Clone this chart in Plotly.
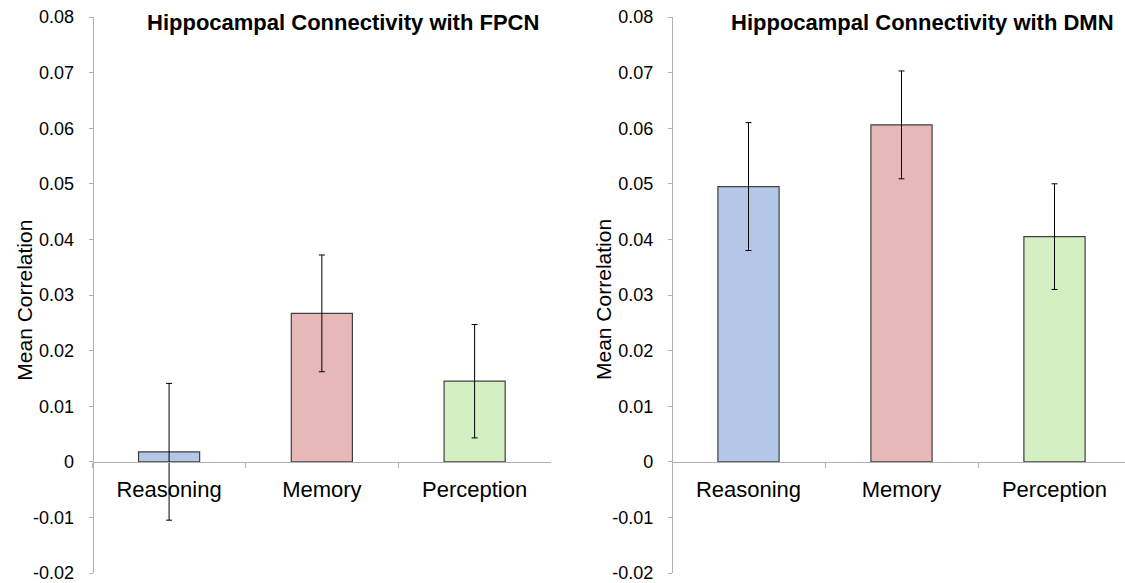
import plotly.graph_objects as go

categories = ["Reasoning", "Memory", "Perception"]
fpcn_means = [0.0018, 0.0267, 0.0145]
fpcn_errors = [0.0123, 0.0105, 0.0102]
dmn_means = [0.0495, 0.0606, 0.0405]
dmn_errors = [0.0115, 0.0097, 0.0095]
bar_colors = ["#b4c7e7", "#e6b8b7", "#d4f0c2"]
titles = ["Hippocampal Connectivity with FPCN", "Hippocampal Connectivity with DMN"]
y_title = "Mean Correlation"
y_tickvals = [-0.02, -0.01, 0, 0.01, 0.02, 0.03, 0.04, 0.05, 0.06, 0.07, 0.08]
y_ticktext = ["-0.02", "-0.01", "0", "0.01", "0.02", "0.03", "0.04", "0.05", "0.06", "0.07", "0.08"]

W, H = 1125, 583
ymin, ymax = -0.02, 0.08
ydom = [10 / H, 1 - 17 / H]
zero_pos = ydom[0] + (0 - ymin) / (ymax - ymin) * (ydom[1] - ydom[0])

FONT = "Liberation Sans, Arial, sans-serif"
AXCOL = "#b0b0b0"

fig = go.Figure()
for i, (means, errs) in enumerate([(fpcn_means, fpcn_errors), (dmn_means, dmn_errors)]):
    xa = "x" if i == 0 else "x2"
    ya = "y" if i == 0 else "y2"
    fig.add_trace(go.Bar(
        x=categories, y=means, xaxis=xa, yaxis=ya,
        marker=dict(color=bar_colors, line=dict(color="#404040", width=1.2)),
        width=0.4,
        error_y=dict(type="data", array=errs, visible=True, color="black", thickness=1, width=3),
        showlegend=False,
    ))

common_x = dict(
    type="category", showline=True, linecolor=AXCOL, linewidth=1.2,
    ticks="outside", tickson="boundaries", ticklen=5, tickcolor=AXCOL,
    tickfont=dict(family=FONT, size=22, color="black"), showgrid=False,
    anchor="free", position=zero_pos, fixedrange=True, automargin=False,
    ticklabelstandoff=8,
)
common_y = dict(
    range=[ymin, ymax], tickvals=y_tickvals, ticktext=y_ticktext,
    showline=True, linecolor=AXCOL, linewidth=1.2, ticks="outside", ticklen=4,
    tickcolor=AXCOL, showgrid=False, zeroline=False, automargin=False,
    tickfont=dict(family=FONT, size=18, color="black"), domain=ydom,
    ticklabelstandoff=11, ticklabeloverflow="allow",
)

left_dom = [92.7 / W, 551 / W]
right_dom = [672 / W, 1.0]
right_end = 2.5 - (1131 - 1125) / 153

ann = []
for tx, cx in zip(titles, [343, 922]):
    ann.append(dict(text="<b>%s</b>" % tx, x=cx / W, y=1 - 22.5 / H, xanchor="center", yanchor="middle",
                    xref="paper", yref="paper", showarrow=False,
                    font=dict(family=FONT, size=22, color="black")))
for ax0 in [left_dom[0], right_dom[0]]:
    ann.append(dict(text=y_title, textangle=-90, x=ax0 - 69 / W, y=1 - 300 / H,
                    xanchor="center", yanchor="middle", xref="paper", yref="paper",
                    showarrow=False, font=dict(family=FONT, size=21, color="black")))

fig.update_layout(
    width=W, height=H, margin=dict(l=0, r=0, t=0, b=0),
    plot_bgcolor="white", paper_bgcolor="white", bargap=0.6,
    xaxis=dict(common_x, domain=left_dom, range=[-0.5, 2.5]),
    xaxis2=dict(common_x, domain=right_dom, range=[-0.5, right_end]),
    yaxis=dict(common_y, anchor="free", position=left_dom[0]),
    yaxis2=dict(common_y, anchor="free", position=right_dom[0]),
    annotations=ann,
)

fig.write_html("out.html")
